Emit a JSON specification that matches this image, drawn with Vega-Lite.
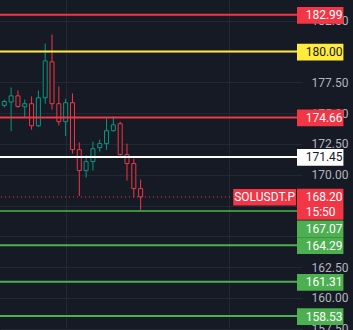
{
  "$schema": "https://vega.github.io/schema/vega-lite/v6.json",
  "autosize": {"type": "none"},
  "width": 302,
  "height": 330,
  "padding": {"left": 0, "top": 0, "right": 51, "bottom": 0},
  "background": "#161a25",
  "config": {
    "view": {"stroke": null},
    "font": "Roboto",
    "numberFormat": ".2f",
    "axis": {"domain": false, "ticks": false, "gridColor": "#242833", "title": null, "zindex": 0},
    "axisY": {"labelPadding": 9, "labelColor": "#b2b5be", "labelFontSize": 12, "labelFont": "Roboto", "labelBaseline": "middle", "labelOverlap": false,
              "labelExpr": "indexof([165, 167.5, 180], datum.value) >= 0 ? '' : datum.label"},
    "axisX": {"labels": false, "grid": true}
  },
  "datasets": {
    "candles": [
      {"i": 0, "open": 175.63, "high": 176.11, "low": 175.47, "close": 175.95},
      {"i": 1, "open": 175.91, "high": 177.09, "low": 173.55, "close": 176.41},
      {"i": 2, "open": 176.41, "high": 176.84, "low": 175.44, "close": 175.55},
      {"i": 3, "open": 175.52, "high": 176.11, "low": 174.68, "close": 175.77},
      {"i": 4, "open": 175.77, "high": 176.36, "low": 173.66, "close": 173.98},
      {"i": 5, "open": 173.98, "high": 176.84, "low": 173.87, "close": 176.25},
      {"i": 6, "open": 176.25, "high": 180.65, "low": 175.77, "close": 179.25},
      {"i": 7, "open": 179.17, "high": 181.38, "low": 175.28, "close": 175.77},
      {"i": 8, "open": 175.77, "high": 177.17, "low": 174.01, "close": 174.31},
      {"i": 9, "open": 174.31, "high": 176.17, "low": 173.14, "close": 175.85},
      {"i": 10, "open": 175.85, "high": 176.6, "low": 171.72, "close": 172.04},
      {"i": 11, "open": 172.04, "high": 172.63, "low": 168.28, "close": 170.34},
      {"i": 12, "open": 170.34, "high": 171.58, "low": 169.77, "close": 171.07},
      {"i": 13, "open": 171.07, "high": 172.69, "low": 170.34, "close": 172.12},
      {"i": 14, "open": 172.2, "high": 172.85, "low": 171.88, "close": 172.53},
      {"i": 15, "open": 172.53, "high": 174.57, "low": 172.04, "close": 173.58},
      {"i": 16, "open": 173.58, "high": 174.74, "low": 173.5, "close": 174.06},
      {"i": 17, "open": 174.15, "high": 174.31, "low": 171.55, "close": 171.64},
      {"i": 18, "open": 171.64, "high": 172.53, "low": 169.53, "close": 170.91},
      {"i": 19, "open": 170.91, "high": 171.31, "low": 168.15, "close": 168.88},
      {"i": 20, "open": 168.88, "high": 169.61, "low": 167.13, "close": 168.2}
    ],
    "levels": [
      {"price": 182.99, "tag": 182.99, "kind": "resistance"},
      {"price": 180.0, "tag": 180.0, "kind": "target"},
      {"price": 174.66, "tag": 174.66, "kind": "resistance"},
      {"price": 171.45, "tag": 171.45, "kind": "pivot"},
      {"price": 167.07, "tag": 165.65, "kind": "nearSupport"},
      {"price": 164.29, "tag": 164.29, "kind": "support"},
      {"price": 161.31, "tag": 161.31, "kind": "support"},
      {"price": 158.53, "tag": 158.53, "kind": "support"}
    ],
    "last": [
      {"symbol": "SOLUSDT.P", "price": 168.2, "timer": "15:50"}
    ]
  },
  "layer": [
    {
      "data": {"name": "candles"},
      "mark": {"type": "rule", "strokeWidth": 1},
      "encoding": {
        "x": {"field": "i", "type": "quantitative", "scale": {"domain": [0.102, 42.94], "nice": false, "zero": false},
              "axis": {"values": [9, 33]}},
        "y": {"field": "low", "type": "quantitative", "scale": {"domain": [157.4, 184.19], "nice": false, "zero": false},
              "axis": {"orient": "right", "values": [157.5, 160, 162.5, 165, 167.5, 170, 172.5, 175, 177.5, 180, 182.5]}},
        "y2": {"field": "high"},
        "color": {"condition": {"test": "datum.close >= datum.open", "value": "#089981"}, "value": "#f23645"}
      }
    },
    {
      "data": {"name": "candles"},
      "mark": {"type": "bar", "size": 4, "fill": "#161a25", "strokeWidth": 1},
      "encoding": {
        "x": {"field": "i", "type": "quantitative", "axis": {"values": [9, 33]}},
        "y": {"field": "open", "type": "quantitative", "axis": {"orient": "right", "values": [157.5, 160, 162.5, 165, 167.5, 170, 172.5, 175, 177.5, 180, 182.5]}},
        "y2": {"field": "close"},
        "stroke": {"condition": {"test": "datum.close >= datum.open", "value": "#089981"}, "value": "#f23645"}
      }
    },
    {
      "data": {"name": "last"},
      "mark": {"type": "rule", "strokeWidth": 1, "strokeDash": [1, 3], "color": "#f23645"},
      "encoding": {
        "y": {"field": "price", "type": "quantitative", "axis": {"orient": "right", "values": [157.5, 160, 162.5, 165, 167.5, 170, 172.5, 175, 177.5, 180, 182.5]}}
      }
    },
    {
      "data": {"name": "levels"},
      "mark": {"type": "rule", "strokeWidth": 2},
      "encoding": {
        "y": {"field": "price", "type": "quantitative", "axis": {"orient": "right", "values": [157.5, 160, 162.5, 165, 167.5, 170, 172.5, 175, 177.5, 180, 182.5]}},
        "color": {"field": "kind", "type": "nominal", "legend": null,
                  "scale": {"domain": ["resistance", "target", "pivot", "nearSupport", "support"], "range": ["#f23645", "#ffeb3b", "#ffffff", "#3f8f43", "#4caf50"]}}
      }
    },
    {
      "data": {"name": "levels"},
      "mark": {"type": "rule", "strokeWidth": 16.7, "yOffset": 0.5},
      "encoding": {
        "x": {"datum": 42.94, "type": "quantitative", "axis": {"values": [9, 33]}},
        "x2": {"datum": 49.75},
        "y": {"field": "tag", "type": "quantitative", "axis": {"orient": "right", "values": [157.5, 160, 162.5, 165, 167.5, 170, 172.5, 175, 177.5, 180, 182.5]}},
        "stroke": {"field": "kind", "type": "nominal", "legend": null,
                  "scale": {"domain": ["resistance", "target", "pivot", "nearSupport", "support"], "range": ["#f23645", "#ffeb3b", "#ffffff", "#4caf50", "#4caf50"]}}
      }
    },
    {
      "data": {"name": "levels"},
      "mark": {"type": "text", "align": "left", "baseline": "middle", "fontSize": 12, "font": "Roboto", "yOffset": 0.5},
      "encoding": {
        "x": {"datum": 44.22, "type": "quantitative", "axis": {"values": [9, 33]}},
        "y": {"field": "tag", "type": "quantitative", "axis": {"orient": "right", "values": [157.5, 160, 162.5, 165, 167.5, 170, 172.5, 175, 177.5, 180, 182.5]}},
        "text": {"field": "price", "type": "quantitative", "format": ".2f"},
        "fill": {"condition": {"test": "datum.kind === 'target' || datum.kind === 'pivot'", "value": "#131722"}, "value": "#ffffff"}
      }
    },
    {
      "data": {"name": "last"},
      "mark": {"type": "rule", "strokeWidth": 16.7, "color": "#f23645", "yOffset": 0.3},
      "encoding": {
        "x": {"datum": 33.58, "type": "quantitative", "axis": {"values": [9, 33]}},
        "x2": {"datum": 42.8},
        "y": {"field": "price", "type": "quantitative", "axis": {"orient": "right", "values": [157.5, 160, 162.5, 165, 167.5, 170, 172.5, 175, 177.5, 180, 182.5]}}
      }
    },
    {
      "data": {"name": "last"},
      "mark": {"type": "text", "align": "center", "baseline": "middle", "fontSize": 12, "font": "Roboto", "color": "#ffffff", "yOffset": 0.5},
      "encoding": {
        "x": {"datum": 38.19, "type": "quantitative", "axis": {"values": [9, 33]}},
        "y": {"field": "price", "type": "quantitative", "axis": {"orient": "right", "values": [157.5, 160, 162.5, 165, 167.5, 170, 172.5, 175, 177.5, 180, 182.5]}},
        "text": {"field": "symbol"}
      }
    },
    {
      "data": {"name": "last"},
      "mark": {"type": "rule", "strokeWidth": 31, "color": "#f23645", "yOffset": 7.2},
      "encoding": {
        "x": {"datum": 42.94, "type": "quantitative", "axis": {"values": [9, 33]}},
        "x2": {"datum": 49.75},
        "y": {"field": "price", "type": "quantitative", "axis": {"orient": "right", "values": [157.5, 160, 162.5, 165, 167.5, 170, 172.5, 175, 177.5, 180, 182.5]}}
      }
    },
    {
      "data": {"name": "last"},
      "mark": {"type": "text", "align": "left", "baseline": "middle", "fontSize": 12, "font": "Roboto", "color": "#ffffff", "yOffset": 0.5},
      "encoding": {
        "x": {"datum": 44.22, "type": "quantitative", "axis": {"values": [9, 33]}},
        "y": {"field": "price", "type": "quantitative", "axis": {"orient": "right", "values": [157.5, 160, 162.5, 165, 167.5, 170, 172.5, 175, 177.5, 180, 182.5]}},
        "text": {"field": "price", "type": "quantitative", "format": ".2f"}
      }
    },
    {
      "data": {"name": "last"},
      "mark": {"type": "text", "align": "left", "baseline": "middle", "fontSize": 12, "font": "Roboto", "color": "#ffffff", "yOffset": 15.5},
      "encoding": {
        "x": {"datum": 44.22, "type": "quantitative", "axis": {"values": [9, 33]}},
        "y": {"field": "price", "type": "quantitative", "axis": {"orient": "right", "values": [157.5, 160, 162.5, 165, 167.5, 170, 172.5, 175, 177.5, 180, 182.5]}},
        "text": {"field": "timer"}
      }
    }
  ]
}
